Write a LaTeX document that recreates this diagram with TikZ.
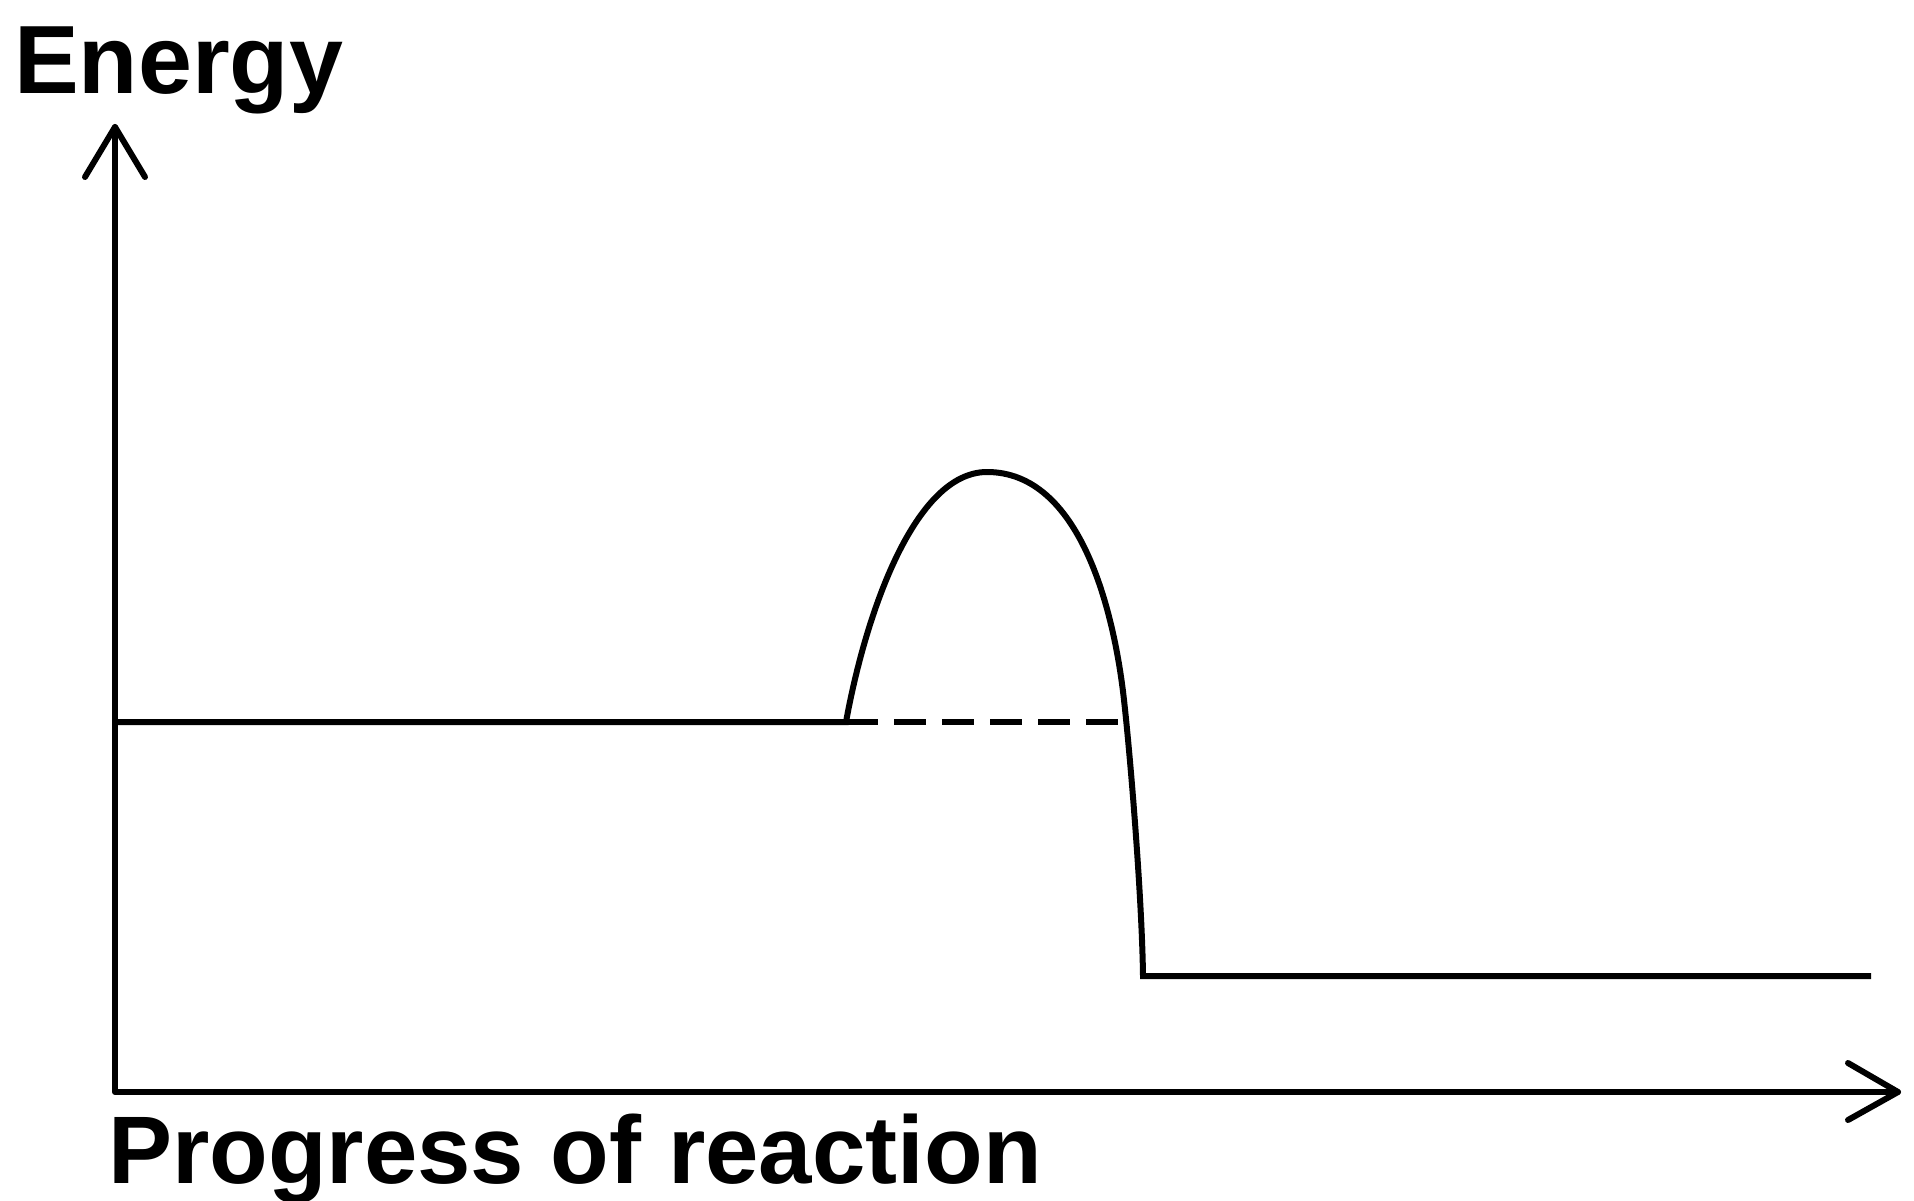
\documentclass[tikz,border=0pt]{standalone}
\usepackage{fontspec}
\setmainfont{Liberation Sans}
\begin{document}
\begin{tikzpicture}[x=1pt,y=-1pt,
  axis/.style={line width=6pt,line cap=round,line join=round},
  curveline/.style={line width=6pt,line join=miter},
  dashline/.style={line width=6pt,dash pattern=on 32pt off 16pt},
  lbl/.style={inner sep=0pt,anchor=base west,font=\fontsize{97}{97}\selectfont\bfseries}]
\useasboundingbox (0,0) rectangle (1914,1201);
% axes
\coordinate (origin) at (115,1092);
\coordinate (ytip) at (115,127);
\coordinate (xtip) at (1898,1092);
\coordinate (ya) at (85,177);
\coordinate (yb) at (145,177);
\coordinate (xa) at (1848,1063);
\coordinate (xb) at (1848,1120);
\draw[axis] (ytip) -- (origin) -- (xtip);
\draw[axis] (ya) -- (ytip) -- (yb);
\draw[axis] (xa) -- (xtip) -- (xb);
% energy profile
\coordinate (r0) at (115,722);
\coordinate (r1) at (846,722);
\coordinate (peak) at (987,472);
\coordinate (d1) at (1124,700);
\coordinate (p0) at (1143,976);
\coordinate (p1) at (1871,976);
\draw[curveline] (r0) -- (r1)
  .. controls (866,612) and (915,472) .. (peak)
  .. controls (1080,472) and (1114,610) .. (d1)
  .. controls (1131,763) and (1142,900) .. (p0) -- (p1);
\coordinate (dend) at (1118,722);
\draw[dashline] (r1) -- (dend);
% labels
\node[lbl] (energy) at (14,94) {Energy};
\node[lbl] (progress) at (108,1183) {\fontsize{96}{96}\selectfont Progress of reaction};
\end{tikzpicture}
\end{document}
